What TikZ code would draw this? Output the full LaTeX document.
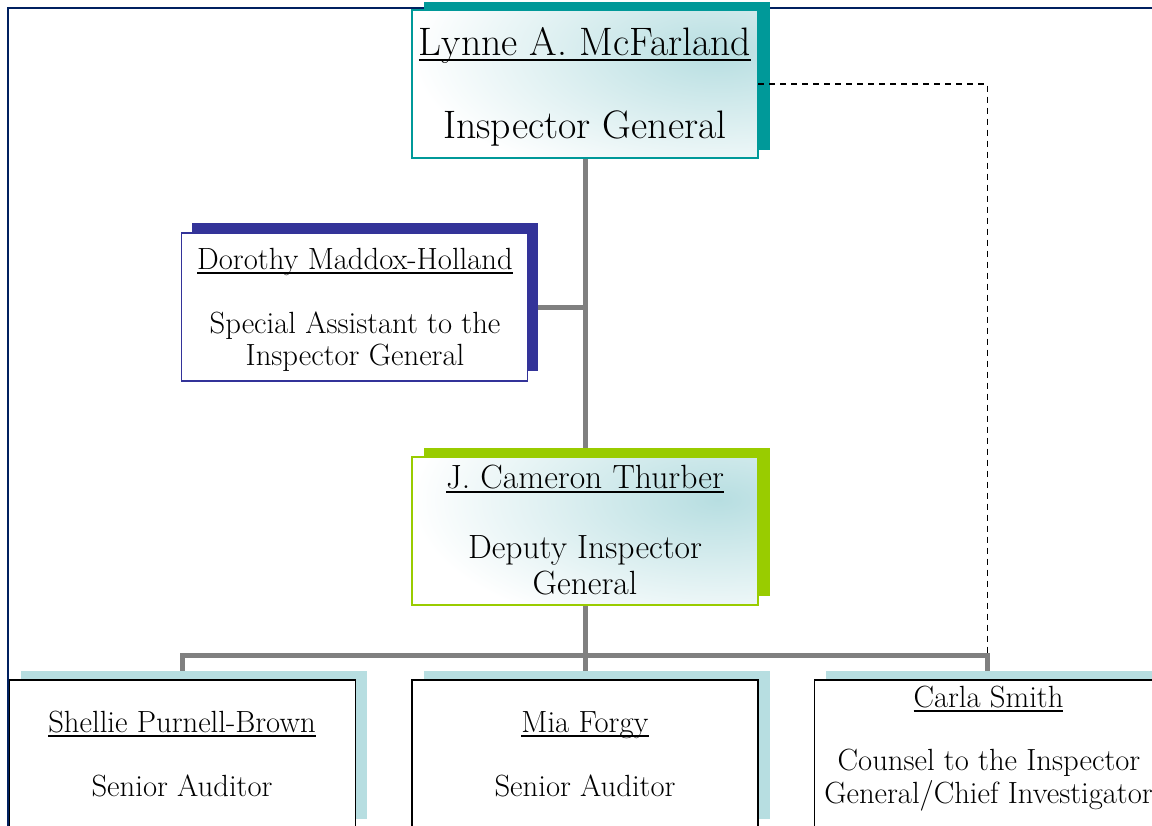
\documentclass[tikz,border=0pt]{standalone}
\usetikzlibrary{calc}
\definecolor{navyF}{RGB}{0,32,96}
\definecolor{tealS}{RGB}{0,153,153}
\definecolor{blueS}{RGB}{51,51,153}
\definecolor{greenS}{RGB}{153,204,0}
\definecolor{paleT}{RGB}{183,222,225}
\definecolor{connG}{RGB}{128,128,128}
\pgfdeclarelayer{bg}
\pgfsetlayers{bg,main}
\newcommand{\myul}[1]{\setbox0\hbox{#1}\rlap{\rule[-0.15em]{\wd0}{0.06em}}\box0}
\begin{document}
\begin{tikzpicture}[x=0.75pt,y=-0.75pt,
  shadowbox/.style={rectangle, minimum width=259.5pt, minimum height=111pt, inner sep=0pt, outer sep=0pt, draw=none},
  mainbox/.style={rectangle, minimum width=259.5pt, minimum height=111pt, inner sep=0pt, outer sep=0pt, line width=1.1pt},
  gradfill/.style={fill=white, path picture={\shade[inner color=paleT, outer color=white]
      ([xshift=-30pt,yshift=-32pt]path picture bounding box.north east) ellipse [x radius=230pt, y radius=105pt];}},
  txtBig/.style={anchor=base, inner sep=0pt, font=\fontsize{29.8}{35}\selectfont},
  txtMid/.style={anchor=base, inner sep=0pt, font=\fontsize{25.2}{30}\selectfont},
  txtSm/.style={anchor=base, inner sep=0pt, font=\fontsize{23}{27}\selectfont},
  conn/.style={draw=connG, line width=3.75pt},
  dashline/.style={draw=black, line width=1.2pt, dash pattern=on 4.5pt off 3.75pt},
  outerframe/.style={draw=navyF, line width=1.5pt}
]
\useasboundingbox (0,0) rectangle (1152,825);
\clip (0,0) rectangle (1152,825);

% Inspector General
\node[shadowbox, fill=tealS] (igS) at (596.5,76) {};
\node[mainbox, draw=tealS, gradfill] (ig) at (585,84) {};
\node[txtBig] (igName) at (585,55) {\myul{Lynne A. McFarland}};
\node[txtBig] (igTitle) at (585,138) {Inspector General};

% Special Assistant
\node[shadowbox, fill=blueS] (dorS) at (365,296.5) {};
\node[mainbox, draw=blueS, fill=white] (dor) at (354.5,307) {};
\node[txtSm] (dorName) at (355,269) {\myul{Dorothy Maddox-Holland}};
\node[txtSm] (dorT1) at (355,333) {Special Assistant to the};
\node[txtSm] (dorT2) at (355,365) {Inspector General};

% Deputy
\node[shadowbox, fill=greenS] (depS) at (596.5,521.5) {};
\node[mainbox, draw=greenS, gradfill] (dep) at (585,531) {};
\node[txtMid] (depName) at (585,488) {\myul{J. Cameron Thurber}};
\node[txtMid] (depT1) at (585,558) {Deputy Inspector};
\node[txtMid] (depT2) at (585,594) {General};

% Bottom row
\node[shadowbox, fill=paleT] (shS) at (193.5,745) {};
\node[mainbox, draw=black, fill=white] (sh) at (182.5,754) {};
\node[txtSm] (shName) at (182,732) {\myul{Shellie Purnell-Brown}};
\node[txtSm] (shT) at (182,796) {Senior Auditor};

\node[shadowbox, fill=paleT] (miaS) at (596.5,745) {};
\node[mainbox, draw=black, fill=white] (mia) at (585,754) {};
\node[txtSm] (miaName) at (585,732) {\myul{Mia Forgy}};
\node[txtSm] (miaT) at (585,796) {Senior Auditor};

\node[shadowbox, fill=paleT] (caS) at (999,745) {};
\node[mainbox, draw=black, fill=white] (ca) at (987.5,754) {};
\node[txtSm] (caName) at (988.5,707) {\myul{Carla Smith}};
\node[txtSm] (caT1) at (989,770) {Counsel to the Inspector};
\node[txtSm] (caT2) at (988.5,803) {General/Chief Investigator};

\coordinate (bus) at (585,655);

\begin{pgfonlayer}{bg}
  \draw[outerframe] (8,840) -- (8,8) -- (1170,8);
  \draw[conn] (ig.south) -- (dep.north);
  \draw[conn] (dor.east) -- (dor.east -| ig.south);
  \draw[conn] (dep.south) -- (bus);
  \draw[conn] (sh.north) -- (sh.north |- bus) -- (ca.north |- bus) -- (ca.north);
  \draw[conn] (bus) -- (mia.north);
\end{pgfonlayer}

\draw[dashline] (ig.east) -- (ig.east -| ca.north) -- (ca.north |- bus);
\end{tikzpicture}
\end{document}
